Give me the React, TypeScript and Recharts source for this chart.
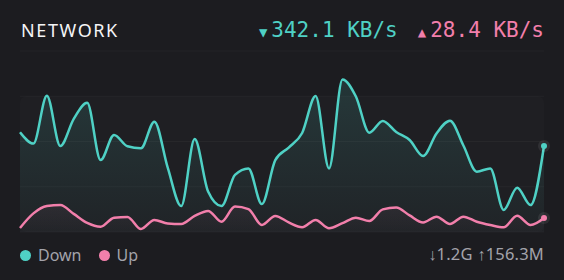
import React from 'react';
import { AreaChart, Area, XAxis, YAxis, CartesianGrid, ReferenceArea } from 'recharts';

// 40 samples, KB/s
const down = [397, 352, 542, 342, 450, 514, 286, 386, 341, 333, 439, 255, 103, 370, 161, 103, 227, 253, 111, 286, 336, 394, 541, 253, 607, 539, 395, 442, 398, 366, 302, 392, 443, 344, 240, 253, 88, 176, 107, 342];
const up = [16, 74, 103, 107, 72, 36, 21, 57, 60, 12, 48, 34, 32, 64, 84, 41, 101, 91, 28, 64, 38, 19, 48, 15, 35, 57, 44, 90, 97, 66, 38, 61, 32, 61, 41, 28, 19, 65, 28, 56];
const yTicks = [180, 360, 540];

const data = down.map((d, i) => ({ t: i, down: d, up: up[i] }));

const BG = '#1c1c20';
const TEAL = '#4fd1c5';
const PINK = '#f27fab';

const lastDot = (color: string) => (props: any) => {
  const { cx, cy, index } = props;
  if (index !== data.length - 1) return <g key={index} />;
  return (
    <g key={index}>
      <circle cx={cx} cy={cy} r={6} fill="#ffffff" fillOpacity={0.08} />
      <circle cx={cx} cy={cy} r={3} fill={color} />
    </g>
  );
};

const tri: React.CSSProperties = { fontSize: 14, verticalAlign: 0, marginRight: 4 };

export default function App() {
  return (
    <div style={{ position: 'fixed', left: 0, top: 0, width: 564, height: 280, background: BG, overflow: 'hidden', fontFamily: '"Noto Sans", sans-serif' }}>
      <div style={{ position: 'absolute', left: 21, top: 18, fontSize: 18, letterSpacing: 1.6, color: '#f4f4f6', lineHeight: '24px' }}>NETWORK</div>
      <div style={{ position: 'absolute', right: 20, top: 17, fontFamily: '"DejaVu Sans Mono", monospace', fontSize: 21, lineHeight: '26px', whiteSpace: 'nowrap' }}>
        <span style={{ color: TEAL }}><span style={tri}>▼</span>342.1 KB/s</span>
        <span style={{ color: PINK, marginLeft: 20 }}><span style={tri}>▲</span>28.4 KB/s</span>
      </div>

      <div style={{ position: 'absolute', left: 0, top: 0 }}>
        <AreaChart width={564} height={280} data={data} margin={{ top: 51, right: 20, bottom: 48, left: 20 }}>
          <defs>
            <linearGradient id="gDown" x1="0" y1="0" x2="0" y2="1">
              <stop offset="0%" stopColor={TEAL} stopOpacity={0.24} />
              <stop offset="100%" stopColor={TEAL} stopOpacity={0.04} />
            </linearGradient>
            <linearGradient id="gUp" x1="0" y1="0" x2="0" y2="1">
              <stop offset="0%" stopColor={PINK} stopOpacity={0.1} />
              <stop offset="100%" stopColor={PINK} stopOpacity={0.02} />
            </linearGradient>
          </defs>
          <XAxis dataKey="t" hide />
          <YAxis hide domain={[0, 720]} ticks={yTicks} />
          <ReferenceArea y1={0} y2={540} fill="#ffffff" fillOpacity={0.014} radius={6} />
          <CartesianGrid vertical={false} stroke="#ffffff" strokeOpacity={0.035} />
          <Area type="monotone" dataKey="down" stroke={TEAL} strokeWidth={2.5} fill="url(#gDown)" dot={lastDot(TEAL)} activeDot={false} isAnimationActive={false} />
          <Area type="monotone" dataKey="up" stroke={PINK} strokeWidth={2.5} fill="url(#gUp)" dot={lastDot(PINK)} activeDot={false} isAnimationActive={false} />
        </AreaChart>
      </div>

      <div style={{ position: 'absolute', left: 20, top: 244, display: 'flex', alignItems: 'center', fontSize: 16, color: '#a3a3ab', lineHeight: '22px' }}>
        <span style={{ width: 11, height: 11, borderRadius: '50%', background: TEAL, marginRight: 7 }} />
        <span>Down</span>
        <span style={{ width: 11, height: 11, borderRadius: '50%', background: PINK, marginLeft: 17, marginRight: 7 }} />
        <span>Up</span>
      </div>
      <div style={{ position: 'absolute', right: 20, top: 243, fontSize: 16.5, color: '#a3a3ab', lineHeight: '22px', whiteSpace: 'nowrap', letterSpacing: 0.2 }}>↓1.2G ↑156.3M</div>
    </div>
  );
}
